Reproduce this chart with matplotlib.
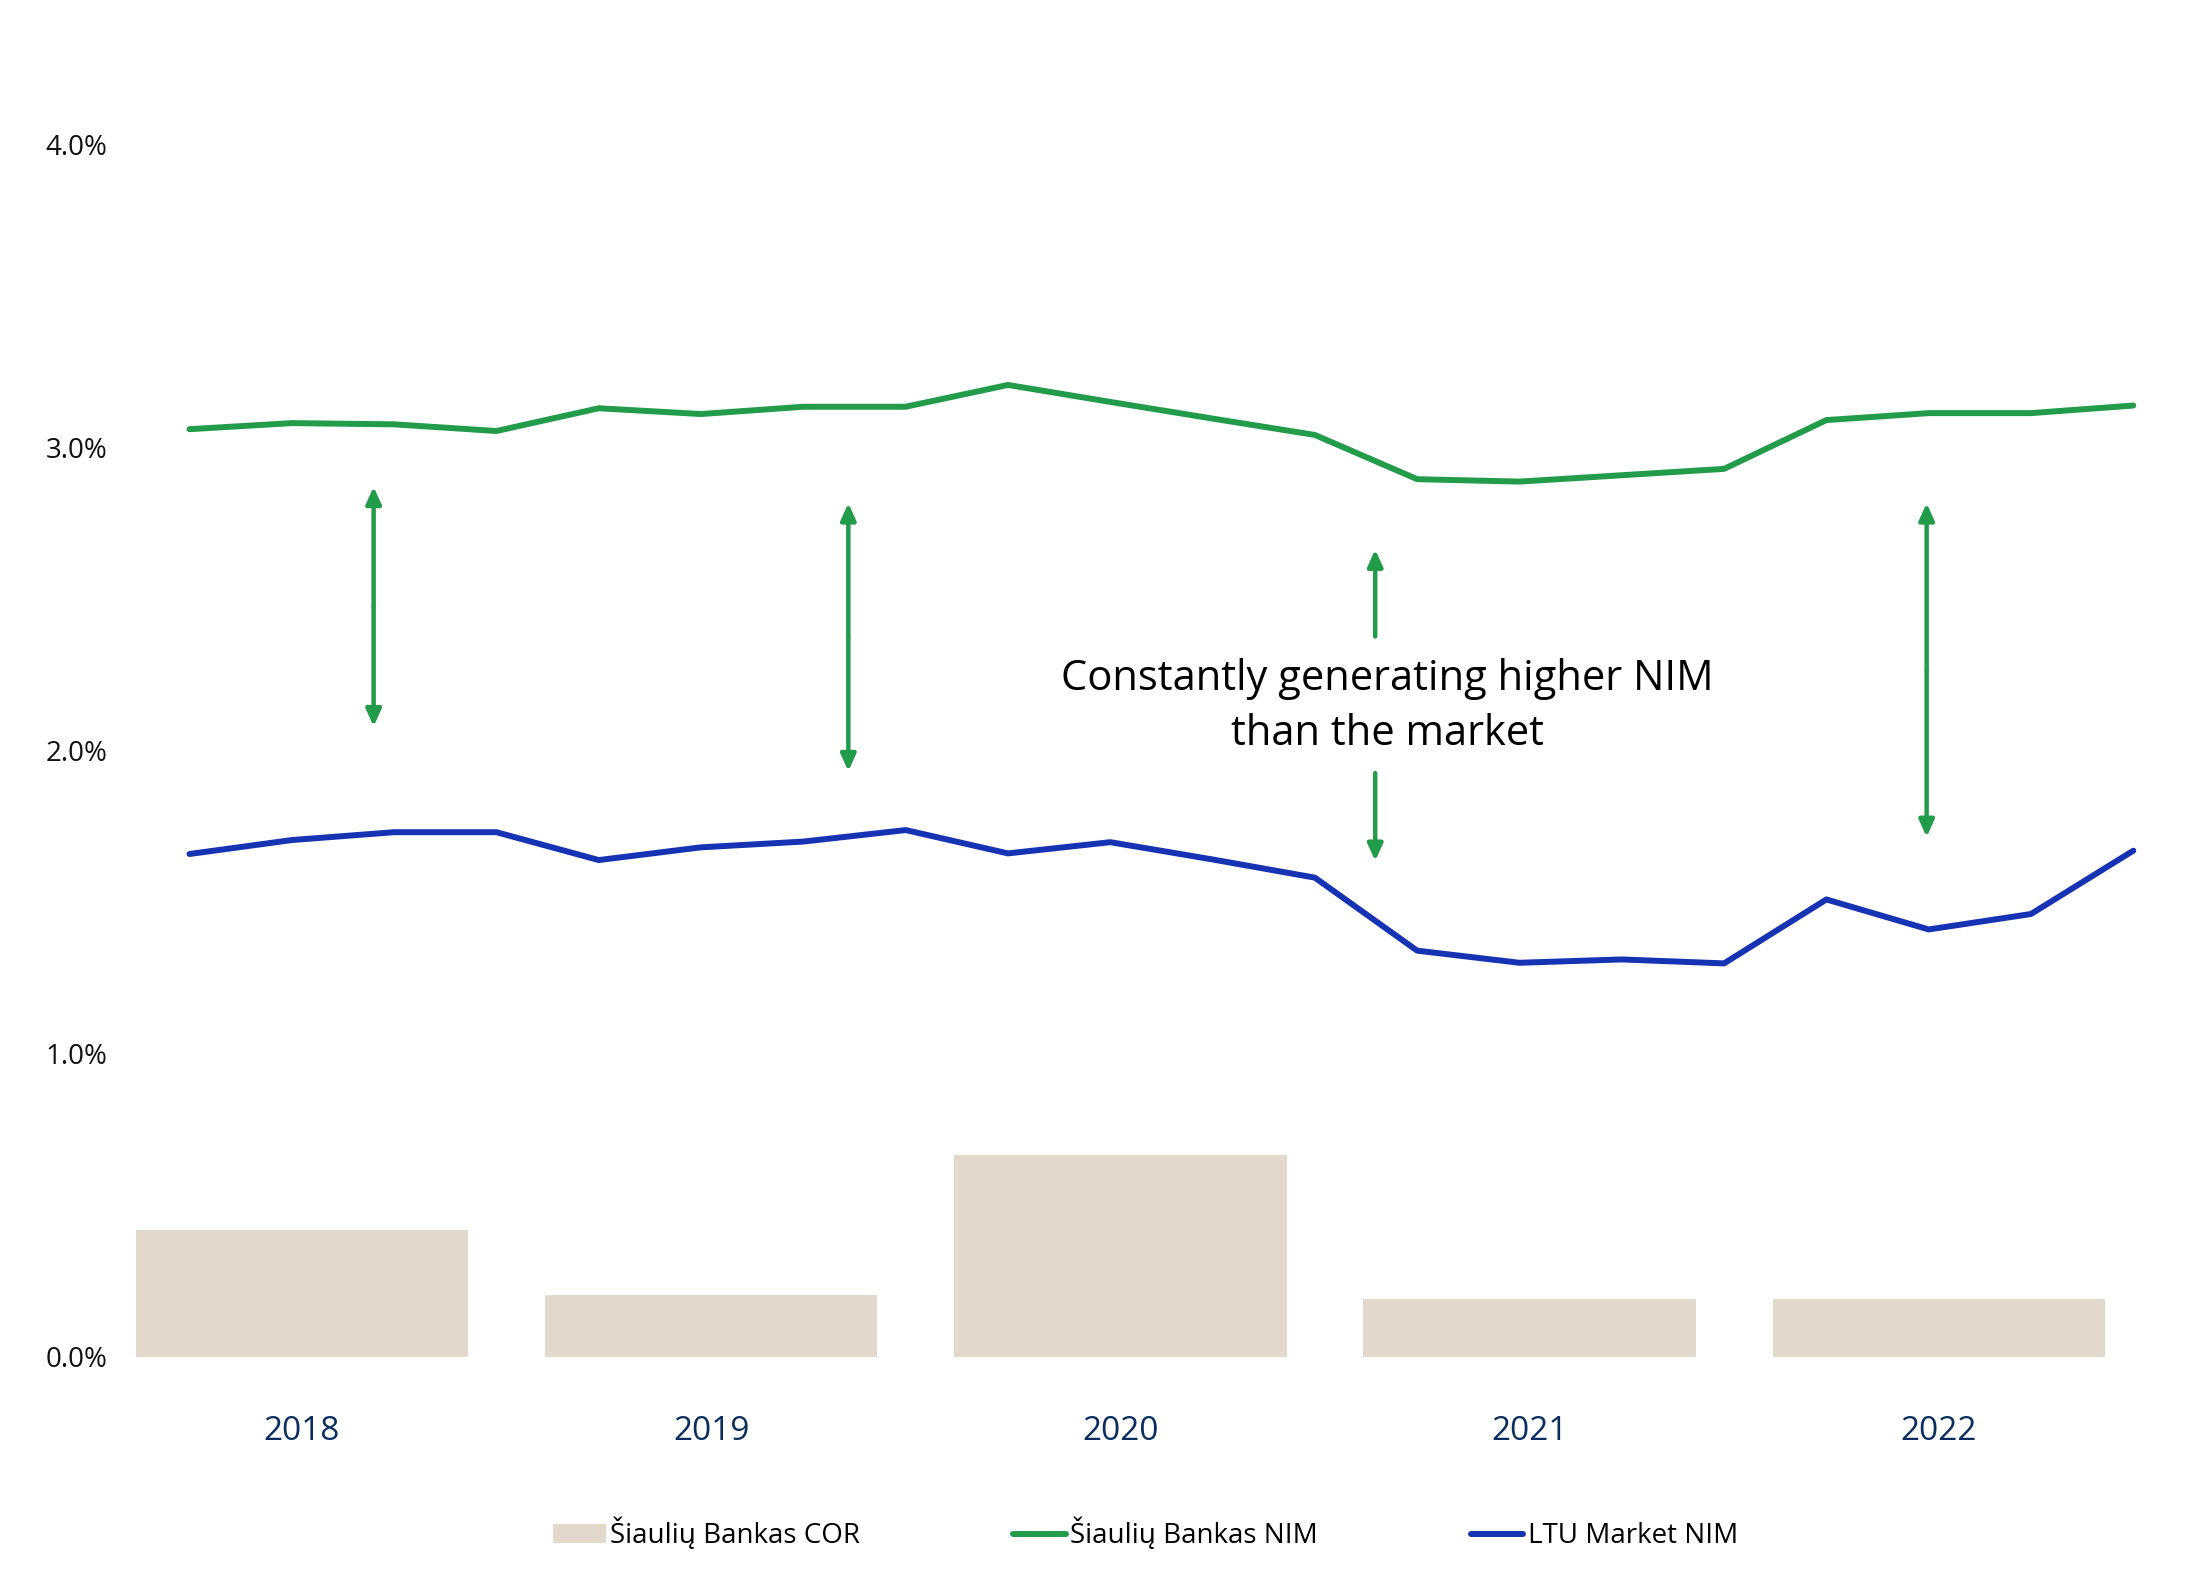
import matplotlib
matplotlib.use("Agg")
import matplotlib.pyplot as plt

plt.rcParams['font.family'] = ['Open Sans', 'DejaVu Sans']

# data
years = ['2018', '2019', '2020', '2021', '2022']
cor = [0.42, 0.205, 0.665, 0.19, 0.19]  # Šiaulių Bankas COR, %
sb_nim = [3.062, 3.082, 3.078, 3.056, 3.131, 3.112, 3.136, 3.136, 3.208, 3.152,
          3.097, 3.043, 2.897, 2.889, 2.910, 2.931, 3.092, 3.115, 3.115, 3.140]
ltu_nim = [1.660, 1.706, 1.732, 1.732, 1.640, 1.682, 1.701, 1.739, 1.662, 1.699,
           1.642, 1.582, 1.341, 1.301, 1.312, 1.299, 1.510, 1.411, 1.462, 1.671]
yticks = [0, 1, 2, 3, 4]

quarters = list(range(len(sb_nim)))
bar_x = [1.1 + 4 * i for i in range(len(years))]

fig = plt.figure(figsize=(22.03, 15.70), dpi=100)
ax = fig.add_axes([0.05815, 0.13567, 0.9195, 0.8106])

b = ax.bar(bar_x, cor, width=3.25, color='#E2D8CC', label='Šiaulių Bankas COR', zorder=1)
l1, = ax.plot(quarters, sb_nim, color='#229C4A', lw=4.3, solid_capstyle='round',
              label='Šiaulių Bankas NIM', zorder=3)
l2, = ax.plot(quarters, ltu_nim, color='#1533B3', lw=4.3, solid_capstyle='round',
              label='LTU Market NIM', zorder=3)

# arrows between the lines
arrow_kw = dict(arrowstyle='-|>,head_length=1.0,head_width=0.45', color='#229C4A', lw=3.2,
                shrinkA=0, shrinkB=0)
for x, y0, y1 in [(1.80, 2.081, 2.872), (6.44, 1.933, 2.818), (16.98, 1.716, 2.818)]:
    ax.annotate('', xy=(x, y1), xytext=(x, (y0 + y1) / 2), arrowprops=arrow_kw)
    ax.annotate('', xy=(x, y0), xytext=(x, (y0 + y1) / 2), arrowprops=arrow_kw)
ax.annotate('', xy=(11.59, 2.665), xytext=(11.59, 2.378), arrowprops=arrow_kw)
ax.annotate('', xy=(11.59, 1.637), xytext=(11.59, 1.927), arrowprops=arrow_kw)

ax.text(11.71, 2.146, 'Constantly generating higher NIM\nthan the market', fontsize=30,
        ha='center', va='center', linespacing=1.4, color='black')

ax.set_xlim(-0.6, 19.2)
ax.set_ylim(0, 4.2)
ax.set_yticks(yticks)
ax.set_yticklabels([f'{v:.1f}%' for v in yticks], fontsize=20, color='#111111')
ax.set_xticks(bar_x)
ax.set_xticklabels(years, fontsize=24, color='#0B2D5E')
ax.tick_params(axis='y', length=0, pad=15)
ax.tick_params(axis='x', length=0, pad=42)
for s in ax.spines.values():
    s.set_visible(False)

fig.legend(handles=[b, l1, l2], loc='center', bbox_to_anchor=(0.52, 0.0229), ncol=3,
           frameon=False, fontsize=20, handlelength=1.9, handletextpad=0.15,
           columnspacing=5.5)

fig.savefig('out.png', dpi=100)
